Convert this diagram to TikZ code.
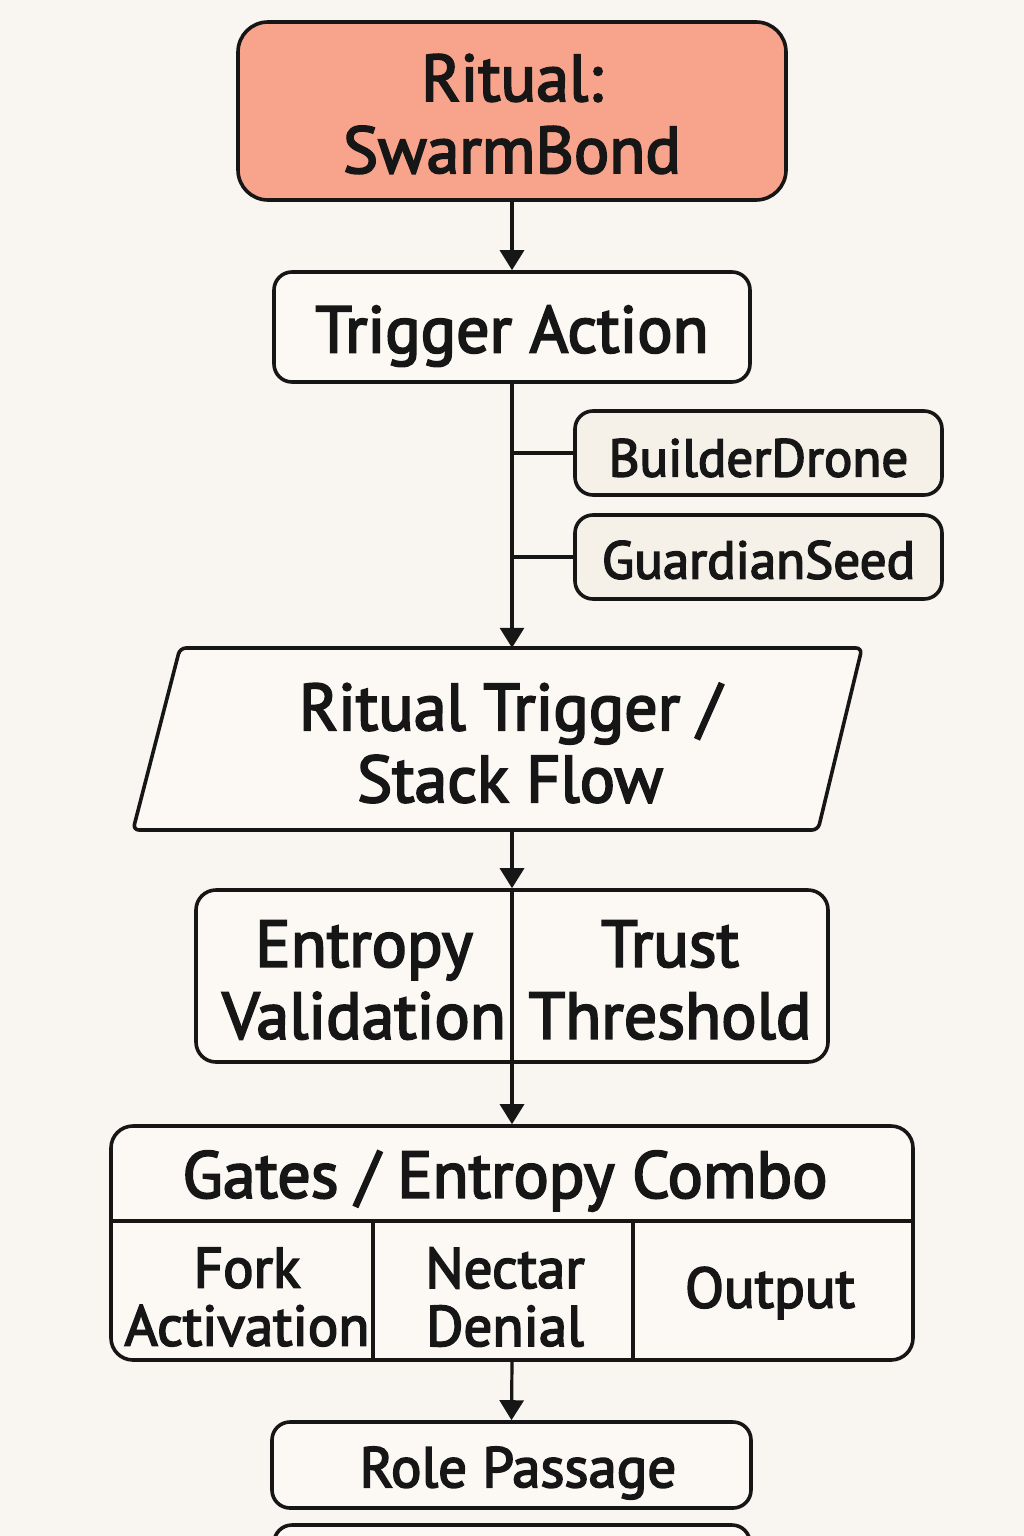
\documentclass[tikz,border=0pt]{standalone}
\usepackage{fontspec}
\setmainfont{PT Sans}[BoldFont=PT Sans, BoldFeatures={FakeBold=3}]
\usetikzlibrary{arrows.meta}
\definecolor{bgc}{RGB}{249,245,240}
\definecolor{boxc}{RGB}{252,249,245}
\definecolor{tagc}{RGB}{245,240,232}
\definecolor{salmon}{RGB}{248,164,140}
\definecolor{ink}{RGB}{22,22,22}
\tikzset{
  box/.style={draw=ink, line width=3.6pt, fill=boxc, inner sep=0pt},
  bigtxt/.style={font=\bfseries\fontsize{66}{72}\selectfont},
  midtxt/.style={font=\bfseries\fontsize{53}{60}\selectfont},
  celltxt/.style={font=\bfseries\fontsize{57}{58}\selectfont},
  lbl/.style={inner sep=0pt, align=center, text=ink},
  arr/.style={draw=ink, line width=3.2pt, -{Triangle[length=20pt,width=24pt]}},
  ln/.style={draw=ink, line width=3.2pt}
}
\begin{document}
\begin{tikzpicture}[x=1pt,y=-1pt]
\useasboundingbox (0,0) rectangle (1024,1536);
\fill[bgc] (0,0) rectangle (1024,1536);
\clip (0,0) rectangle (1024,1536);

% boxes
\node[box, fill=salmon, minimum width=548pt, minimum height=178pt, rounded corners=30pt] (ritual) at (512,111) {};
\node[lbl, bigtxt] (ritualtxt) at (512,114) {Ritual:\\SwarmBond};
\node[box, minimum width=476pt, minimum height=110pt, rounded corners=18pt] (trig) at (512,327) {};
\node[lbl, bigtxt] (trigtxt) at (512,336) {Trigger Action};
\node[box, fill=tagc, minimum width=367pt, minimum height=84pt, rounded corners=18pt] (builder) at (758.5,453) {};
\node[lbl, midtxt] (buildertxt) at (758.5,458) {BuilderDrone};
\node[box, fill=tagc, minimum width=367pt, minimum height=84pt, rounded corners=18pt] (guardian) at (758.5,557) {};
\node[lbl, midtxt] (guardiantxt) at (758.5,560) {GuardianSeed};

% parallelogram
\draw[draw=ink, line width=3.6pt, fill=boxc, rounded corners=6pt] (180,648) -- (862,648) -- (818,830) -- (133,830) -- cycle;
\node[lbl, minimum width=729pt, minimum height=182pt] (stack) at (497.5,739) {};
\node[lbl, bigtxt] (stacktxt) at (510,743) {Ritual Trigger /\\Stack Flow};

% entropy / trust
\node[box, minimum width=632pt, minimum height=172pt, rounded corners=20pt] (et) at (512,976) {};
\draw[ln] (et.north) -- (et.south);
\node[lbl, bigtxt] (ent) at (364,980) {Entropy\\Validation};
\node[lbl, bigtxt] (trust) at (670,980) {Trust\\Threshold};

% gates
\node[box, minimum width=802pt, minimum height=234pt, rounded corners=22pt] (gates) at (512,1243) {};
\coordinate (gl) at (111,1221);
\coordinate (gr) at (913,1221);
\coordinate (v1) at (373,1221);
\coordinate (v2) at (633,1221);
\draw[ln] (gl) -- (gr);
\draw[ln] (v1) -- (v1 |- gates.south);
\draw[ln] (v2) -- (v2 |- gates.south);
\node[lbl, bigtxt] (gtitle) at (505,1181) {Gates / Entropy Combo};
\node[lbl, celltxt] (fork) at (247,1297) {Fork\\Activation};
\node[lbl, celltxt] (nectar) at (505,1297) {Nectar\\Denial};
\node[lbl, celltxt] (output) at (770,1293) {Output};

\node[box, minimum width=479pt, minimum height=86pt, rounded corners=18pt] (role) at (511.5,1465) {};
\node[lbl, celltxt] (roletxt) at (518,1473) {Role Passage};
\node[box, minimum width=476pt, minimum height=86pt, rounded corners=18pt] (nextbox) at (512,1568) {};

% connectors
\draw[arr] (ritual.south) -- (trig.north);
\draw[arr] (trig.south) -- (trig.south |- stack.north);
\coordinate (b1) at (trig.south |- builder.west);
\coordinate (b2) at (trig.south |- guardian.west);
\draw[ln] (b1) -- (builder.west);
\draw[ln] (b2) -- (guardian.west);
\draw[arr] (et.north |- stack.south) -- (et.north);
\draw[arr] (et.south) -- (gates.north);
\draw[arr] (gates.south) -- (role.north);
\end{tikzpicture}
\end{document}
